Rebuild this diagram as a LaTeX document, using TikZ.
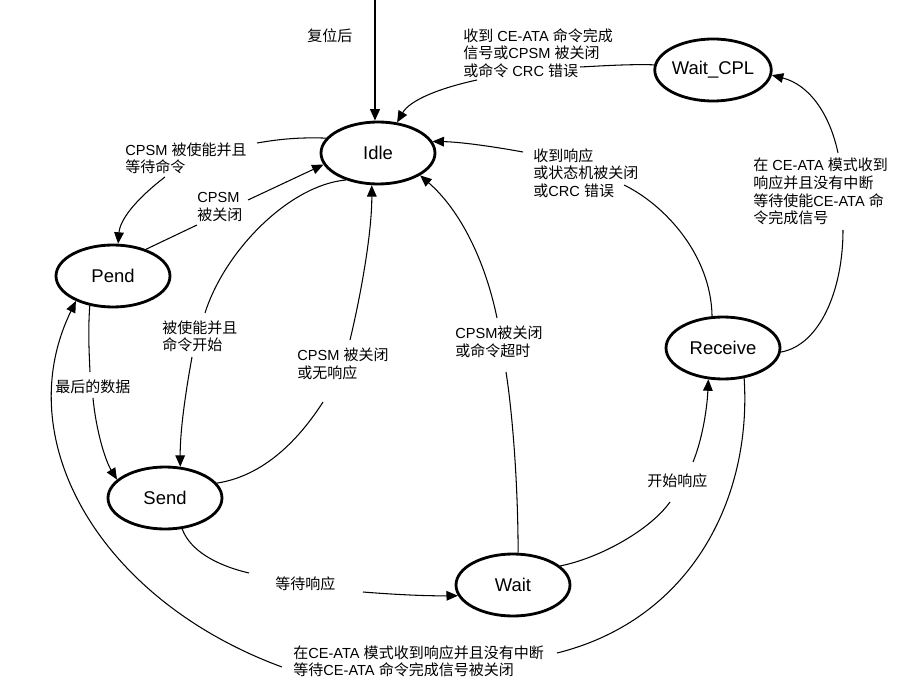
\documentclass[tikz,border=0pt]{standalone}
\usepackage{fontspec}
\setmainfont{Liberation Sans}
\newfontfamily\cjkfont[Scale=1.03]{Noto Sans CJK SC}
\newcommand\zh[1]{{\cjkfont #1}}
\usetikzlibrary{arrows.meta,shapes.geometric}
\begin{document}
\begin{tikzpicture}[x=0.02cm,y=-0.02cm,
  state/.style={ellipse,draw,line width=1.6pt,minimum width=2.28cm,minimum height=1.24cm,inner sep=0pt,font=\fontsize{10.5}{12}\selectfont},
  lbl/.style={align=left,inner sep=0pt,anchor=north west,font=\fontsize{8.3}{10}\selectfont},
  edge/.style={line width=0.6pt},
  arr/.style={edge,-{Triangle[length=6.5pt,width=5.5pt]}}]
\useasboundingbox (0,0) rectangle (912,692);
% states
\node[state] (idle) at (378,153) {Idle};
\node[state] (wcpl) at (713,70) {Wait\_CPL};
\node[state] (pend) at (113,276) {Pend};
\node[state] (send) at (165,498) {Send};
\node[state] (wait) at (513,585) {Wait};
\node[state] (recv) at (723,348) {Receive};
% labels
\node[lbl] (lreset) at (307,28) {\zh{复位后}};
\node[lbl] (lwcpl) at (463,28) {\zh{收到} CE-ATA \zh{命令完成}\\\zh{信号或}CPSM \zh{被关闭}\\\zh{或命令} CRC \zh{错误}};
\node[lbl] (lri) at (533,148) {\zh{收到响应}\\\zh{或状态机被关闭}\\\zh{或}CRC \zh{错误}};
\node[lbl] (lip) at (125,142) {CPSM \zh{被使能并且}\\\zh{等待命令}};
\node[lbl] (lpi) at (197,192) {CPSM\\\zh{被关闭}};
\node[lbl] (lis) at (162,320) {\zh{被使能并且}\\\zh{命令开始}};
\node[lbl] (lsi) at (297,348) {CPSM \zh{被关闭}\\\zh{或无响应}};
\node[lbl] (lwi) at (455,326) {CPSM\zh{被关闭}\\\zh{或命令超时}};
\node[lbl] (lps) at (55,379) {\zh{最后的数据}};
\node[lbl] (lsw) at (275,576) {\zh{等待响应}};
\node[lbl] (lwr) at (647,473) {\zh{开始响应}};
\node[lbl] (lrw) at (753,158) {\zh{在} CE-ATA \zh{模式收到}\\\zh{响应并且没有中断}\\\zh{等待使能}CE-ATA \zh{命}\\\zh{令完成信号}};
\node[lbl] (lrp) at (293,645) {\zh{在}CE-ATA \zh{模式收到响应并且没有中断}\\\zh{等待}CE-ATA \zh{命令完成信号被关闭}};
% break points of connectors
\coordinate (top) at (375,0);
\coordinate (w2a) at (580,67);  \coordinate (w2b) at (477,80);
\coordinate (r3a) at (624,185); \coordinate (r3b) at (523,152);
\coordinate (i4a) at (257,143); \coordinate (i4b) at (165,177);
\coordinate (p5a) at (197,225); \coordinate (p5b) at (248,200);
\coordinate (i6a) at (205,313); \coordinate (i6b) at (192,357);
\coordinate (s7a) at (323,402); \coordinate (s7b) at (350,340);
\coordinate (w8a) at (506,372); \coordinate (w8b) at (497,318);
\coordinate (p9a) at (90,372);  \coordinate (p9b) at (93,398);
\coordinate (s10a) at (249,573); \coordinate (s10b) at (363,592);
\coordinate (w11a) at (670,502); \coordinate (w11b) at (693,462);
\coordinate (r12a) at (843,230); \coordinate (r12b) at (838,153);
\coordinate (r13a) at (557,653); \coordinate (r13b) at (282,667);
% reset
\draw[arr,line width=1.1pt] (top) -- (top |- idle.north);
% Wait_CPL -> Idle
\draw[edge] (wcpl.175) .. controls (630,64) and (600,66) .. (w2a);
\draw[arr] (w2b) .. controls (440,88) and (410,100) .. (idle.58);
% Receive -> Idle
\draw[edge] (recv.109) .. controls (711,255) and (665,205) .. (r3a);
\draw[arr] (r3b) .. controls (490,146) and (460,142) .. (idle.12);
% Idle -> Pend
\draw[edge] (idle.164) .. controls (295,137) and (275,140) .. (i4a);
\draw[arr] (i4b) .. controls (135,200) and (120,220) .. (pend.81);
% Pend -> Idle
\draw[edge] (pend.39) -- (p5a);
\draw[arr] (p5b) -- (idle.192);
% Idle -> Send
\draw[edge] (idle.220) .. controls (290,185) and (225,250) .. (i6a);
\draw[arr] (i6b) .. controls (186,390) and (180,430) .. (send.64);
% Send -> Idle
\draw[edge] (send.16) .. controls (270,475) and (305,430) .. (s7a);
\draw[arr] (s7b) .. controls (362,290) and (372,230) .. (idle.259);
% Wait -> Idle
\draw[edge] (wait.81) .. controls (518,480) and (512,410) .. (w8a);
\draw[arr] (w8b) .. controls (485,260) and (460,210) .. (idle.332);
% Pend -> Send
\draw[edge] (pend.232) .. controls (88,330) and (89,350) .. (p9a);
\draw[arr] (p9b) .. controls (96,430) and (105,460) .. (send.159);
% Send -> Wait
\draw[edge] (send.299) .. controls (190,550) and (215,565) .. (s10a);
\draw[arr] (s10b) .. controls (400,595) and (430,596) .. (wait.191);
% Wait -> Receive
\draw[edge] (wait.22) .. controls (600,558) and (650,530) .. (w11a);
\draw[arr] (w11b) .. controls (702,440) and (707,410) .. (recv.245);
% Receive -> Wait_CPL
\draw[edge] (recv.356) .. controls (820,345) and (843,290) .. (r12a);
\draw[arr] (r12b) .. controls (830,115) and (810,85) .. (wcpl.355);
% Receive -> Pend
\draw[edge] (recv.305) .. controls (752,500) and (690,620) .. (r13a);
\draw[arr] (r13b) .. controls (100,600) and (8,440) .. (pend.214);
\end{tikzpicture}
\end{document}
